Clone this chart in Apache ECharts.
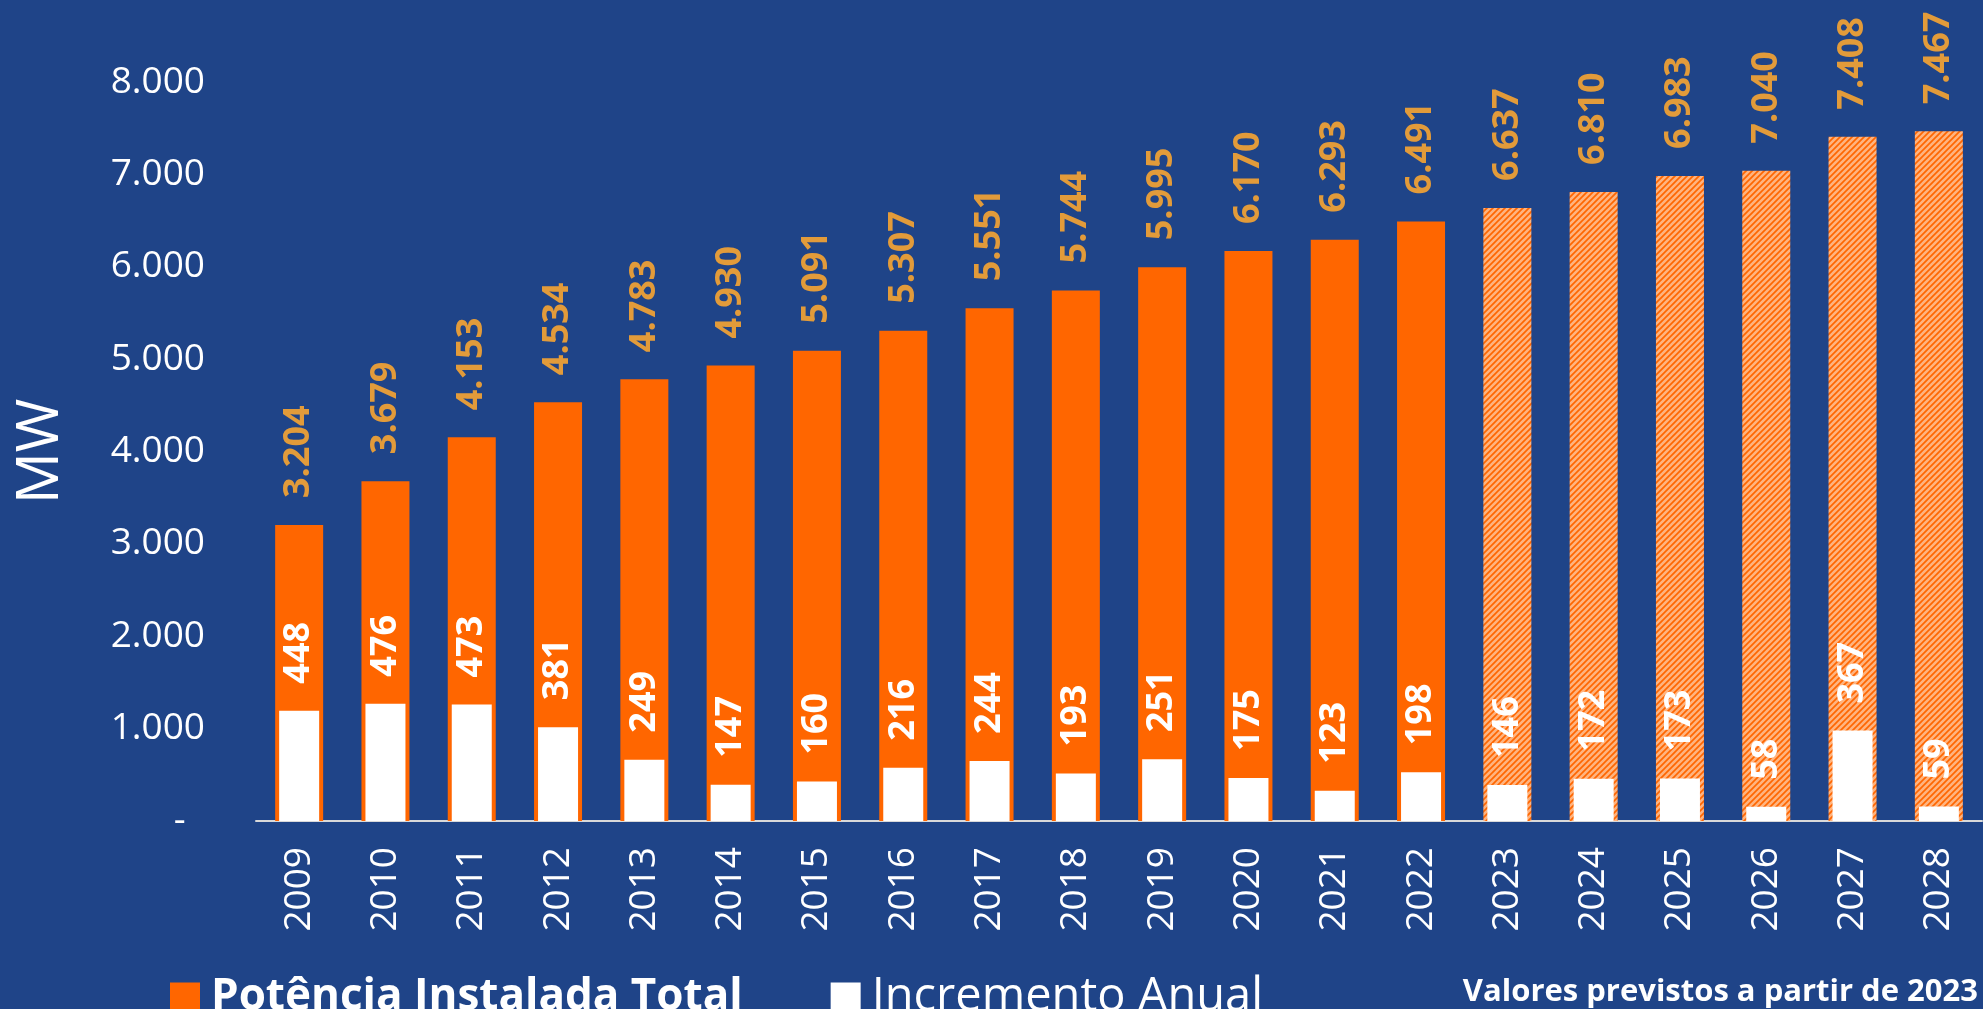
<!DOCTYPE html>
<html>
<head>
<meta charset="utf-8">
<script src="https://cdn.jsdelivr.net/npm/echarts@6/dist/echarts.min.js"></script>
<style>
  html, body { margin: 0; padding: 0; background: #1F4488; }
  #chart { width: 1983px; height: 1009px; }
</style>
</head>
<body>
<div id="chart"></div>
<script>
var years = ['2009', '2010', '2011', '2012', '2013', '2014', '2015', '2016', '2017', '2018',
  '2019', '2020', '2021', '2022', '2023', '2024', '2025', '2026', '2027', '2028'];
var totalPower = [3204, 3679, 4153, 4534, 4783, 4930, 5091, 5307, 5551, 5744,
  5995, 6170, 6293, 6491, 6637, 6810, 6983, 7040, 7408, 7467];
var annualIncrement = [448, 476, 473, 381, 249, 147, 160, 216, 244, 193,
  251, 175, 123, 198, 146, 172, 173, 58, 367, 59];
var forecastFrom = '2023';

// thousands with a dot, zero as a dash
function fmt(v) {
  if (v === 0) return '-  ';
  return String(v).replace(/\B(?=(\d{3})+(?!\d))/g, '.');
}

// hatch pattern for forecast bars
var hatch = document.createElement('canvas');
hatch.width = 6;
hatch.height = 6;
var ctx = hatch.getContext('2d');
ctx.fillStyle = '#FF6600';
ctx.fillRect(0, 0, 6, 6);
ctx.strokeStyle = '#FFB47F';
ctx.lineWidth = 2.6;
ctx.beginPath();
ctx.moveTo(-2, 2); ctx.lineTo(2, -2);
ctx.moveTo(-1, 7); ctx.lineTo(7, -1);
ctx.moveTo(4, 8); ctx.lineTo(8, 4);
ctx.stroke();

var startIdx = years.indexOf(forecastFrom);
var totalData = totalPower.map(function (v, i) {
  if (i < startIdx) return v;
  return { value: v, itemStyle: { color: { image: hatch, repeat: 'repeat' } } };
});

var font = 'Open Sans';
var chart = echarts.init(document.getElementById('chart'));
chart.setOption({
  backgroundColor: '#1F4488',
  animation: false,
  grid: { left: 256, right: 1, top: 82, bottom: 188 },
  legend: {
    left: 170,
    top: 974,
    padding: 0,
    itemWidth: 30,
    itemHeight: 30,
    itemGap: 88,
    icon: 'rect',
    textStyle: { color: '#fff', fontSize: 44, fontFamily: font, padding: [0, 0, 0, 6] },
    data: [
      { name: 'Potência Instalada Total', textStyle: { fontWeight: 'bold' } },
      { name: 'Incremento Anual', textStyle: { fontSize: 47, padding: [0, 0, 8, 6] } }
    ]
  },
  graphic: [{
    type: 'text',
    right: 5,
    top: 977,
    style: {
      text: 'Valores previstos a partir de 2023',
      fill: '#fff',
      font: 'bold 31px "Open Sans"'
    }
  }],
  xAxis: [{
    type: 'category',
    data: years,
    axisLine: { lineStyle: { color: '#D9D9D9', width: 2 } },
    axisTick: { show: false },
    axisLabel: { rotate: 90, margin: 26, color: '#fff', fontSize: 37, fontFamily: font }
  }, {
    type: 'category',
    data: years,
    show: false
  }],
  yAxis: [{
    type: 'value',
    min: 0,
    max: 8000,
    interval: 1000,
    name: 'MW',
    nameLocation: 'middle',
    nameRotate: 90,
    nameGap: 186,
    nameTextStyle: { color: '#fff', fontSize: 58, fontFamily: font },
    splitLine: { show: false },
    axisLine: { show: false },
    axisTick: { show: false },
    axisLabel: { margin: 51, color: '#fff', fontSize: 37, fontFamily: font, formatter: fmt }
  }, {
    type: 'value',
    min: 0,
    max: 3000,
    show: false,
    splitLine: { show: false }
  }],
  series: [{
    name: 'Potência Instalada Total',
    type: 'bar',
    barWidth: 48,
    itemStyle: { color: '#FF6600' },
    label: {
      show: true,
      position: 'top',
      rotate: 90,
      align: 'left',
      verticalAlign: 'middle',
      distance: 27,
      color: '#E29B3A',
      fontSize: 36,
      fontWeight: 'bold',
      fontFamily: font,
      formatter: function (p) { return fmt(p.value); }
    },
    data: totalData
  }, {
    name: 'Incremento Anual',
    type: 'bar',
    xAxisIndex: 1,
    yAxisIndex: 1,
    barWidth: 40,
    itemStyle: { color: '#FFFFFF' },
    label: {
      show: true,
      position: 'top',
      rotate: 90,
      align: 'left',
      verticalAlign: 'middle',
      distance: 27,
      color: '#FFFFFF',
      fontSize: 36,
      fontWeight: 'bold',
      fontFamily: font
    },
    data: annualIncrement
  }]
});
</script>
</body>
</html>
